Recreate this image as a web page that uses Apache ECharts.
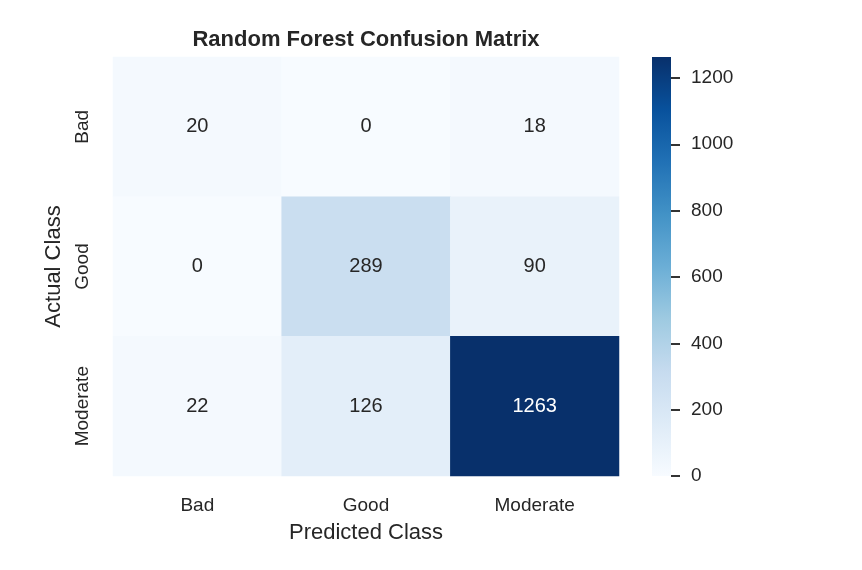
<!DOCTYPE html>
<html>
<head>
<meta charset="utf-8">
<script src="https://cdn.jsdelivr.net/npm/echarts@6/dist/echarts.min.js"></script>
<style>
html,body{margin:0;padding:0;background:#fff;}
#chart{width:862px;height:570px;}
</style>
</head>
<body>
<div id="chart"></div>
<script>
const predictedClasses = ['Bad', 'Good', 'Moderate'];
const actualClasses = ['Bad', 'Good', 'Moderate'];
// rows = actual class, columns = predicted class
const rowBad = [20, 0, 18];
const rowGood = [0, 289, 90];
const rowModerate = [22, 126, 1263];
const colorbarTicks = [0, 200, 400, 600, 800, 1000, 1200];
const colorMin = 0;
const colorMax = 1263;
const blues = ['#f7fbff', '#deebf7', '#c6dbef', '#9ecae1', '#6baed6', '#4292c6', '#2171b5', '#08519c', '#08306b'];

const rows = [rowBad, rowGood, rowModerate];
const FONT = 'Liberation Sans, Arial, sans-serif';
const TXT = '#262626';

const heatData = [];
rows.forEach(function (row, yi) {
  row.forEach(function (v, xi) {
    heatData.push({
      value: [xi, yi, v],
      label: { color: v > colorMax * 0.6 ? '#ffffff' : TXT }
    });
  });
});

const stops = blues.map(function (c, i) {
  return { offset: 1 - i / (blues.length - 1), color: c };
});

const chart = echarts.init(document.getElementById('chart'));
chart.setOption({
  backgroundColor: '#ffffff',
  animation: false,
  textStyle: { fontFamily: FONT },
  title: {
    text: 'Random Forest Confusion Matrix',
    left: 366,
    textAlign: 'center',
    top: 29,
    padding: 0,
    textStyle: { fontFamily: FONT, fontSize: 22, fontWeight: 'bold', color: TXT }
  },
  grid: [
    { left: 113, top: 57, width: 506, height: 419 },
    { left: 652, top: 57, width: 19, height: 419 }
  ],
  xAxis: [
    {
      type: 'category',
      gridIndex: 0,
      data: predictedClasses,
      position: 'bottom',
      name: 'Predicted Class',
      nameLocation: 'middle',
      nameGap: 46,
      nameTextStyle: { fontFamily: FONT, fontSize: 22, color: TXT },
      axisLine: { show: false },
      axisTick: { show: false },
      splitLine: { show: false },
      axisLabel: { fontFamily: FONT, fontSize: 19, color: TXT, margin: 20 }
    },
    {
      type: 'category',
      gridIndex: 1,
      data: ['c'],
      show: false
    }
  ],
  yAxis: [
    {
      type: 'category',
      gridIndex: 0,
      data: actualClasses,
      inverse: true,
      name: 'Actual Class',
      nameLocation: 'middle',
      nameGap: 46,
      nameTextStyle: { fontFamily: FONT, fontSize: 22, color: TXT },
      axisLine: { show: false },
      axisTick: { show: false },
      splitLine: { show: false },
      axisLabel: { fontFamily: FONT, fontSize: 19, color: TXT, rotate: 90, margin: 21 }
    },
    {
      type: 'value',
      gridIndex: 1,
      position: 'right',
      min: colorMin,
      max: colorMax,
      axisLine: { show: false },
      splitLine: { show: false },
      axisTick: {
        show: true,
        length: 9,
        lineStyle: { color: '#333333', width: 2 },
        customValues: colorbarTicks
      },
      axisLabel: {
        fontFamily: FONT,
        fontSize: 19,
        color: TXT,
        margin: 20,
        customValues: colorbarTicks,
        formatter: function (v) { return String(v); }
      }
    }
  ],
  visualMap: {
    show: false,
    type: 'continuous',
    min: colorMin,
    max: colorMax,
    seriesIndex: 0,
    inRange: { color: blues }
  },
  series: [
    {
      type: 'heatmap',
      xAxisIndex: 0,
      yAxisIndex: 0,
      data: heatData,
      silent: true,
      label: { show: true, fontFamily: FONT, fontSize: 20, formatter: function (p) { return p.value[2]; } },
      itemStyle: { borderWidth: 0 }
    },
    {
      type: 'bar',
      xAxisIndex: 1,
      yAxisIndex: 1,
      data: [colorMax],
      barWidth: '100%',
      silent: true,
      itemStyle: {
        color: new echarts.graphic.LinearGradient(0, 0, 0, 1, stops)
      }
    }
  ]
});
</script>
</body>
</html>
